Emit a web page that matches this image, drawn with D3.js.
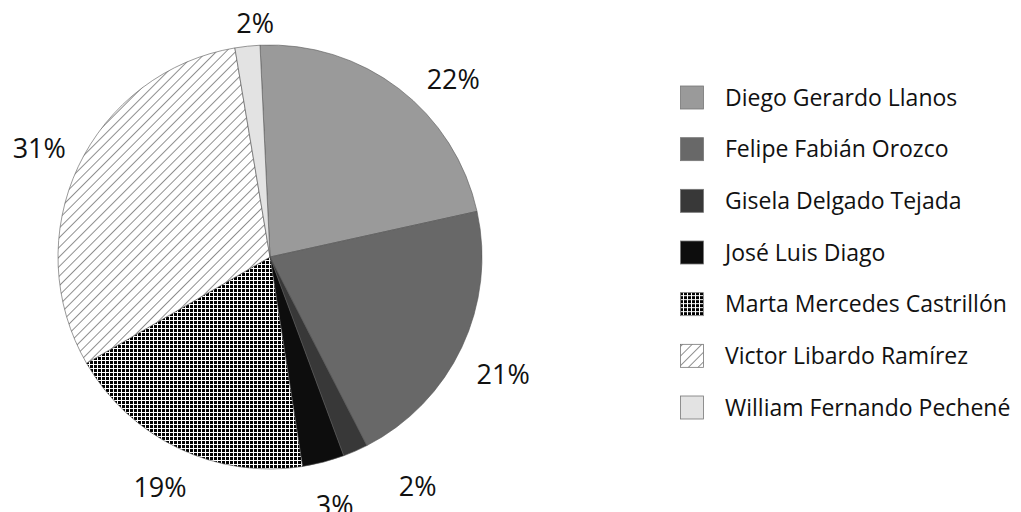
<!DOCTYPE html>
<html>
<head>
<meta charset="utf-8">
<script src="https://cdn.jsdelivr.net/npm/d3@7"></script>
<style>
  html, body { margin: 0; padding: 0; background: #fff; }
  svg { display: block; }
  text { font-family: "Open Sans", "Noto Sans", sans-serif; fill: #111; }
</style>
</head>
<body>
<svg id="chart" width="1021" height="512"></svg>
<script>
// ---- Data ----
const categories = [
  "Diego Gerardo Llanos",
  "Felipe Fabián Orozco",
  "Gisela Delgado Tejada",
  "José Luis Diago",
  "Marta Mercedes Castrillón",
  "Victor Libardo Ramírez",
  "William Fernando Pechené"
];
const values = [22.3, 20.9, 1.9, 3.2, 19.1, 30.7, 1.9];
const percentLabels = ["22%", "21%", "2%", "3%", "19%", "31%", "2%"];

// ---- Styles ----
const fills = ["#9a9a9a", "#686868", "#383838", "#0d0d0d", "url(#grid)", "url(#hatch)", "#e3e3e3"];
// label nudges: [angle offset in degrees, radius offset in px]
const labelNudge = [[8.5, 0], [1.5, 6], [-9, 18], [0, 2], [0, 0], [0, 0], [2.5, -21]];

const svg = d3.select("#chart");
const cx = 270, cy = 257, R = 212;

// patterns
const defs = svg.append("defs");
const grid = defs.append("pattern")
  .attr("id", "grid").attr("patternUnits", "userSpaceOnUse")
  .attr("width", 4).attr("height", 4);
grid.append("rect").attr("width", 4).attr("height", 4).attr("fill", "#000");
grid.append("rect").attr("x", 3).attr("y", 0).attr("width", 1).attr("height", 4).attr("fill", "#fff");
grid.append("rect").attr("x", 0).attr("y", 3).attr("width", 4).attr("height", 1).attr("fill", "#fff");

const hs = 6.8;
const hatch = defs.append("pattern")
  .attr("id", "hatch").attr("patternUnits", "userSpaceOnUse")
  .attr("width", hs).attr("height", hs)
  .attr("patternTransform", "rotate(45)");
hatch.append("rect").attr("width", hs).attr("height", hs).attr("fill", "#fff");
hatch.append("line").attr("x1", 0).attr("y1", 0).attr("x2", 0).attr("y2", hs)
  .attr("stroke", "#222").attr("stroke-width", 1);

// pie
const start = -2.7 * Math.PI / 180;
const pie = d3.pie().sort(null).value(d => d.v)
  .startAngle(start).endAngle(start + 2 * Math.PI);
const data = categories.map((c, i) => ({ c, v: values[i], i }));
const arcs = pie(data);
const arc = d3.arc().innerRadius(0).outerRadius(R);

const g = svg.append("g").attr("transform", `translate(${cx},${cy})`);
g.selectAll("path.slice").data(arcs).join("path")
  .attr("class", "slice")
  .attr("d", arc)
  .attr("fill", d => fills[d.data.i])
  .attr("stroke", "#555")
  .attr("stroke-width", 0.6);

// labels
const labelR = 255;
g.selectAll("text.lbl").data(arcs).join("text")
  .attr("class", "lbl")
  .attr("transform", d => {
    const n = labelNudge[d.data.i];
    const a = (d.startAngle + d.endAngle) / 2 + n[0] * Math.PI / 180;
    const r = labelR + n[1];
    return `translate(${r * Math.sin(a)},${-r * Math.cos(a)})`;
  })
  .attr("text-anchor", "middle")
  .attr("dy", "0.36em")
  .style("font-size", "27px")
  .text(d => percentLabels[d.data.i]);

// legend
const legendY = d3.scalePoint().domain(categories).range([97.5, 407.5]);
const leg = svg.append("g");
const rows = leg.selectAll("g").data(categories).join("g")
  .attr("transform", d => `translate(680,${legendY(d)})`);
rows.append("rect")
  .attr("x", 0.5).attr("y", -11.5).attr("width", 23).attr("height", 23)
  .attr("fill", (d, i) => fills[i])
  .attr("stroke", "#777").attr("stroke-width", 0.8);
rows.append("text")
  .attr("x", 45).attr("dy", "0.36em")
  .style("font-size", "23px")
  .text(d => d);
</script>
</body>
</html>
